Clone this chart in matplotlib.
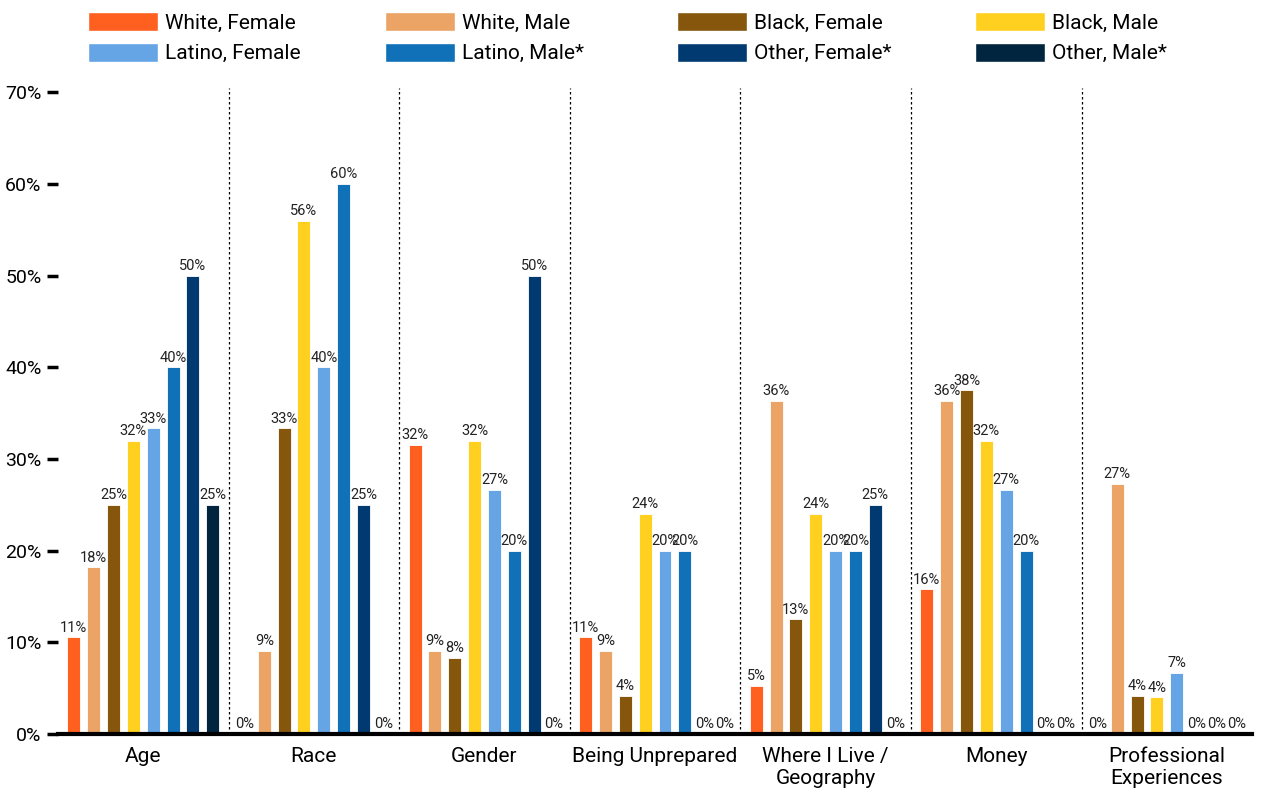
import numpy as np
import matplotlib.pyplot as plt
from matplotlib.patches import Patch

plt.rcParams['font.family'] = ['Roboto', 'DejaVu Sans']

# ---- data (percent) ----
categories = ['Age', 'Race', 'Gender', 'Being Unprepared',
              'Where I Live /\nGeography', 'Money', 'Professional\nExperiences']
groups = ['White, Female', 'White, Male', 'Black, Female', 'Black, Male',
          'Latino, Female', 'Latino, Male*', 'Other, Female*', 'Other, Male*']
colors = ['#FF5F1F', '#EBA465', '#85560C', '#FFD020',
          '#65A5E5', '#1070B8', '#003A70', '#02253F']

white_female = [10.53, 0, 31.58, 10.53, 5.26, 15.79, 0]
white_male = [18.18, 9.09, 9.09, 9.09, 36.36, 36.36, 27.27]
black_female = [25.0, 33.33, 8.33, 4.17, 12.5, 37.5, 4.17]
black_male = [32, 56, 32, 24, 24, 32, 4]
latino_female = [33.33, 40, 26.67, 20, 20, 26.67, 6.67]
latino_male = [40, 60, 20, 20, 20, 20, 0]
other_female = [50, 25, 50, 0, 25, 0, 0]
other_male = [25, 0, 0, 0, 0, 0, 0]

series = [white_female, white_male, black_female, black_male,
          latino_female, latino_male, other_female, other_male]

# ---- figure ----
fig = plt.figure(figsize=(12.61, 7.92), dpi=100)
ax = fig.add_axes([0.046, 0.0732, 0.947, 0.816])

x = np.arange(len(categories))
step = 0.1163
width = 0.076

for i, (vals, col) in enumerate(zip(series, colors)):
    pos = x + (i - 3.5) * step
    ax.bar(pos, vals, width=width, color=col, edgecolor='white', linewidth=0.6, zorder=3)
    for p, v in zip(pos, vals):
        ax.text(p, v + 0.3, f"{int(v + 0.5)}%", ha='center', va='bottom',
                fontsize=10.5, color='#222222', zorder=4)

# dotted separators between groups
for s in x[:-1] + 0.5:
    ax.axvline(s, color='black', linestyle=(0, (2, 2)), linewidth=0.9, zorder=1)

ax.set_xlim(-0.5, len(categories) - 0.5)
ax.set_ylim(0, 70.5)
ax.set_yticks(np.arange(0, 71, 10))
ax.set_yticklabels([f"{t}%" for t in range(0, 71, 10)], fontsize=14)
ax.set_xticks(x)
ax.set_xticklabels(categories, fontsize=15, va='top', linespacing=1.2)

ax.tick_params(axis='y', length=8, width=2.5, pad=4, color='black')
ax.tick_params(axis='x', length=0, pad=9)

for side in ['top', 'right', 'left']:
    ax.spines[side].set_visible(False)
ax.spines['bottom'].set_linewidth(3)
ax.spines['bottom'].set_zorder(5)

# legend: 4 columns of 2 rows, placed one column at a time
col_x = [88, 385, 677, 975]
for c in range(4):
    hs = [Patch(facecolor=colors[k], edgecolor='white', label=groups[k]) for k in (c, c + 4)]
    leg = fig.legend(handles=hs, loc='upper left', bbox_to_anchor=(col_x[c] / 1261, 1 - 12 / 792),
                     frameon=False, fontsize=15, handlelength=3.35, handleheight=1.0,
                     handletextpad=0.35, labelspacing=0.5, borderpad=0, borderaxespad=0)

plt.savefig('out.png', dpi=100)
